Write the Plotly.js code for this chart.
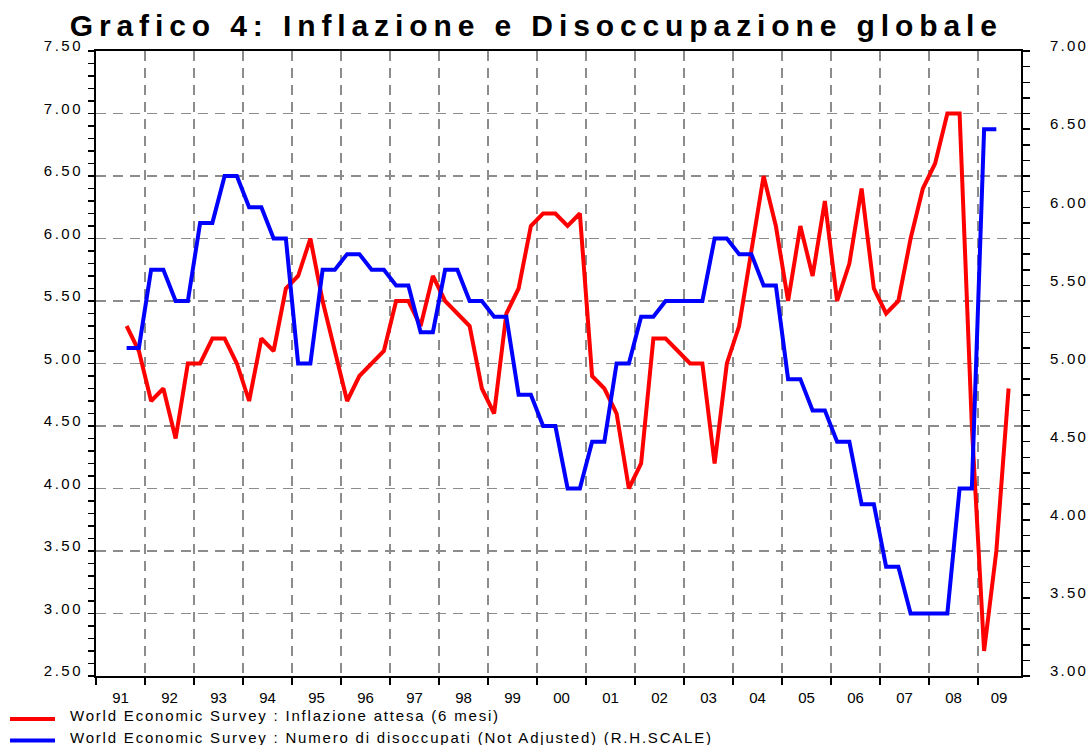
<!DOCTYPE html>
<html>
<head>
<meta charset="utf-8">
<script src="https://cdn.plot.ly/plotly-3.0.1.min.js"></script>
<style>
  html, body { margin: 0; padding: 0; background: #fff; }
  #chart { width: 1090px; height: 745px; }
  .gtitle { letter-spacing: 5.9px; }
  .annotation-text { letter-spacing: 1.8px; }
  .ytick text { letter-spacing: 2.5px; }
  .y2tick text { letter-spacing: 2.2px; }
</style>
</head>
<body>
<div id="chart"></div>
<script>
// Quarterly periods: 1991 Q3 ... 2009 Q3
var startYear = 1991, startQuarter = 3, nPeriods = 73;
var periods = [];
for (var k = 0; k < nPeriods; k++) {
  var q = startQuarter - 1 + k;
  periods.push({ year: startYear + Math.floor(q / 4), quarter: (q % 4) + 1 });
}

// World Economic Survey: Inflazione attesa (6 mesi) — left scale
var inflazioneAttesa = [
  5.3, 5.1, 4.7, 4.8, 4.4, 5.0, 5.0, 5.2, 5.2, 5.0,
  4.7, 5.2, 5.1, 5.6, 5.7, 6.0, 5.5, 5.1, 4.7, 4.9,
  5.0, 5.1, 5.5, 5.5, 5.3, 5.7, 5.5, 5.4, 5.3, 4.8,
  4.6, 5.4, 5.6, 6.1, 6.2, 6.2, 6.1, 6.2, 4.9, 4.8,
  4.6, 4.0, 4.2, 5.2, 5.2, 5.1, 5.0, 5.0, 4.2, 5.0,
  5.3, 5.9, 6.5, 6.1, 5.5, 6.1, 5.7, 6.3, 5.5, 5.8,
  6.4, 5.6, 5.4, 5.5, 6.0, 6.4, 6.6, 7.0, 7.0, 4.5,
  2.7, 3.5, 4.8
];

// World Economic Survey: Numero di disoccupati (Not Adjusted) — right scale
var numeroDisoccupati = [
  5.1, 5.1, 5.6, 5.6, 5.4, 5.4, 5.9, 5.9, 6.2, 6.2,
  6.0, 6.0, 5.8, 5.8, 5.0, 5.0, 5.6, 5.6, 5.7, 5.7,
  5.6, 5.6, 5.5, 5.5, 5.2, 5.2, 5.6, 5.6, 5.4, 5.4,
  5.3, 5.3, 4.8, 4.8, 4.6, 4.6, 4.2, 4.2, 4.5, 4.5,
  5.0, 5.0, 5.3, 5.3, 5.4, 5.4, 5.4, 5.4, 5.8, 5.8,
  5.7, 5.7, 5.5, 5.5, 4.9, 4.9, 4.7, 4.7, 4.5, 4.5,
  4.1, 4.1, 3.7, 3.7, 3.4, 3.4, 3.4, 3.4, 4.2, 4.2,
  6.5, 6.5
];

var yearLabels = ['91','92','93','94','95','96','97','98','99','00',
                  '01','02','03','04','05','06','07','08','09'];
var yearStarts = [1991,1992,1993,1994,1995,1996,1997,1998,1999,2000,
                  2001,2002,2003,2004,2005,2006,2007,2008,2009];
var labelPositions = [1991.5,1992.5,1993.5,1994.5,1995.5,1996.5,1997.5,1998.5,1999.5,2000.5,
                      2001.5,2002.5,2003.5,2004.5,2005.5,2006.5,2007.5,2008.5,2009.43];

var seriesNames = [
  'World Economic Survey : Inflazione attesa (6 mesi)',
  'World Economic Survey : Numero di disoccupati (Not Adjusted) (R.H.SCALE)'
];
var seriesColors = ['#ff0000', '#0000ff'];

function xOf(p) { return p.year + (p.quarter - 0.5) / 4; }
var xInfl = periods.slice(0, inflazioneAttesa.length).map(xOf);
var xDis = periods.slice(0, numeroDisoccupati.length).map(xOf);

var FONT = 'Liberation Sans, Arial, sans-serif';
var GRID = '#8c8c8c';

// plot-area geometry in pixels (for placing the legend below the plot)
var W = 1090, H = 745, ML = 96, MR = 69, MT = 51, MB = 69;
var PW = W - ML - MR, PH = H - MT - MB;
function px2x(px) { return (px - ML) / PW; }
function py2y(py) { return (H - MB - py) / PH; }

var traces = [
  { x: xInfl, y: inflazioneAttesa, name: seriesNames[0], type: 'scatter', mode: 'lines',
    line: { color: seriesColors[0], width: 4 }, yaxis: 'y' },
  { x: xDis, y: numeroDisoccupati, name: seriesNames[1], type: 'scatter', mode: 'lines',
    line: { color: seriesColors[1], width: 4 }, yaxis: 'y2' }
];

// legend drawn below the plot (sample line + label per series)
var legendRows = [{ line: 719, text: 715 }, { line: 740.5, text: 737 }];
var shapes = [], annotations = [];
seriesNames.forEach(function (nm, i) {
  shapes.push({
    type: 'line', xref: 'paper', yref: 'paper',
    x0: px2x(10), x1: px2x(55), y0: py2y(legendRows[i].line), y1: py2y(legendRows[i].line),
    line: { color: seriesColors[i], width: 4 }
  });
  annotations.push({
    xref: 'paper', yref: 'paper', x: px2x(68), y: py2y(legendRows[i].text),
    xanchor: 'left', yanchor: 'middle', showarrow: false, text: nm,
    font: { family: FONT, size: 15, color: '#000' }
  });
});

var layout = {
  width: W, height: H,
  margin: { l: ML, r: MR, t: MT, b: MB, pad: 0, autoexpand: false },
  paper_bgcolor: '#ffffff', plot_bgcolor: '#ffffff',
  font: { family: FONT, size: 15, color: '#000' },
  title: {
    text: '<b>Grafico 4: Inflazione e Disoccupazione globale</b>',
    font: { family: FONT, size: 30, color: '#000', weight: 'bold' },
    xref: 'container', x: 0.492, xanchor: 'center',
    yref: 'container', y: 0.966, yanchor: 'middle'
  },
  showlegend: false,
  shapes: shapes,
  annotations: annotations,
  xaxis: {
    range: [1991, 2009.878],
    tickmode: 'array', tickvals: labelPositions, ticktext: yearLabels,
    ticks: '', ticklabelstandoff: 7,
    showgrid: false, zeroline: false,
    showline: true, linecolor: '#000', linewidth: 2, mirror: true,
    tickfont: { family: FONT, size: 15, color: '#000' },
    minor: {
      tickmode: 'array', tickvals: yearStarts,
      ticks: 'outside', ticklen: 7, tickwidth: 1.5, tickcolor: '#000',
      showgrid: true, gridcolor: GRID, gridwidth: 1.5, griddash: '10px,7px'
    }
  },
  yaxis: {
    range: [2.5, 7.5], tick0: 2.5, dtick: 0.5, tickformat: '.2f',
    ticks: 'outside', ticklen: 6, tickwidth: 1.5, tickcolor: '#000',
    ticklabelshift: -5, ticklabelstandoff: 2,
    showgrid: true, gridcolor: GRID, gridwidth: 1.5, griddash: '10px,7px',
    zeroline: false, showline: true, linecolor: '#000', linewidth: 2,
    tickfont: { family: FONT, size: 15, color: '#000' },
    minor: { tick0: 2.5, dtick: 0.1, ticks: 'outside', ticklen: 6, tickwidth: 1.5, tickcolor: '#000', showgrid: false }
  },
  yaxis2: {
    range: [3, 7], tick0: 3, dtick: 0.5, tickformat: '.2f',
    overlaying: 'y', side: 'right',
    ticks: 'outside', ticklen: 7, tickwidth: 1.5, tickcolor: '#000',
    ticklabelshift: -5, ticklabelstandoff: 17,
    showgrid: false, zeroline: false, showline: true, linecolor: '#000', linewidth: 2,
    tickfont: { family: FONT, size: 15, color: '#000' },
    minor: { tick0: 3, dtick: 0.1, ticks: 'outside', ticklen: 7, tickwidth: 1.5, tickcolor: '#000', showgrid: false }
  }
};

Plotly.newPlot('chart', traces, layout, { staticPlot: true, displayModeBar: false });
</script>
</body>
</html>
